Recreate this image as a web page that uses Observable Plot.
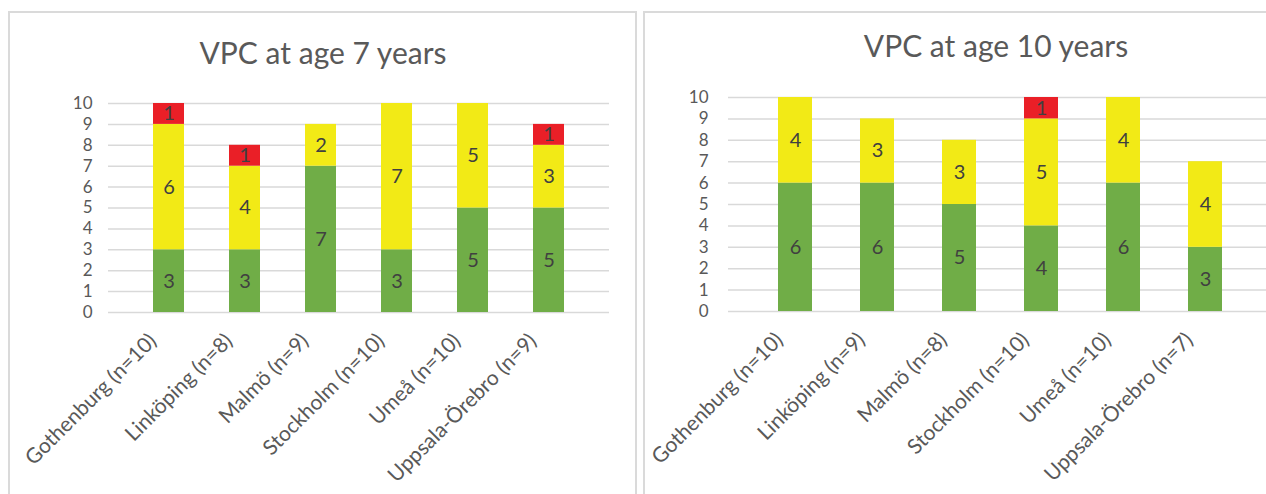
<!DOCTYPE html>
<html>
<head>
<meta charset="utf-8">
<script src="https://cdn.jsdelivr.net/npm/d3@7"></script>
<script src="https://cdn.jsdelivr.net/npm/@observablehq/plot@0.6"></script>
<style>
  html, body { margin: 0; padding: 0; background: #fff; }
  body { width: 1266px; height: 494px; overflow: hidden; position: relative; font-family: Lato, "Open Sans", sans-serif; }
  .panel { position: absolute; border: 2px solid #dadada; box-sizing: border-box; }
  .title { position: absolute; font-family: Lato, sans-serif; font-size: 30px; color: #595959; white-space: nowrap; transform: translateX(-50%); }
  .chart { position: absolute; top: 0; width: 700px; }
  .chart svg { overflow: visible; max-width: none !important; }
</style>
</head>
<body>
<div class="panel" style="left:8px; top:11px; width:629px; height:500px;"></div>
<div class="panel" style="left:643px; top:11px; width:640px; height:500px;"></div>
<div class="title" style="left:323px; top:34px;">VPC at age 7 years</div>
<div class="title" style="left:996px; top:27px;">VPC at age 10 years</div>
<div id="c7" class="chart" style="left:0px;"></div>
<div id="c10" class="chart" style="left:640px;"></div>
<script>
// Age 7
const regions7 = ["Gothenburg (n=10)", "Linköping (n=8)", "Malmö (n=9)", "Stockholm (n=10)", "Umeå (n=10)", "Uppsala-Örebro (n=9)"];
const green7  = [3, 3, 7, 3, 5, 5];
const yellow7 = [6, 4, 2, 7, 5, 3];
const red7    = [1, 1, 0, 0, 0, 1];

// Age 10
const regions10 = ["Gothenburg (n=10)", "Linköping (n=9)", "Malmö (n=8)", "Stockholm (n=10)", "Umeå (n=10)", "Uppsala-Örebro (n=7)"];
const green10  = [6, 6, 5, 4, 6, 3];
const yellow10 = [4, 3, 3, 5, 4, 4];
const red10    = [0, 0, 0, 1, 0, 0];

const yTicks = [0, 1, 2, 3, 4, 5, 6, 7, 8, 9, 10];
const levels = ["level-green", "level-yellow", "level-red"];
const colors = ["#70AD47", "#F2EA16", "#EA1F27"];

function toRows(regions, g, y, r) {
  const rows = [];
  const series = [g, y, r];
  levels.forEach((lv, i) => {
    regions.forEach((reg, j) => {
      const v = series[i][j];
      if (v > 0) rows.push({region: reg, level: lv, value: v});
    });
  });
  return rows;
}

function makeChart(regions, rows, opts) {
  return Plot.plot({
    width: opts.width,
    height: 494,
    marginLeft: opts.marginLeft,
    marginRight: opts.marginRight,
    marginTop: opts.marginTop,
    marginBottom: opts.marginBottom,
    style: {fontFamily: "Lato, sans-serif", fontSize: "20px", color: "#595959", background: "transparent"},
    x: {domain: regions, padding: 0.59, label: null},
    y: {domain: [0, 10], label: null},
    color: {type: "ordinal", domain: levels, range: colors},
    marks: [
      Plot.gridY({ticks: yTicks, stroke: "#d9d9d9", strokeOpacity: 1, strokeWidth: 1.5}),
      Plot.barY(rows, {x: "region", y: "value", fill: "level", z: "level", order: levels}),
      Plot.text(rows, Plot.stackY({x: "region", y: "value", z: "level", order: levels, text: "value", fill: "#404040", fontSize: 20})),
      Plot.axisY({ticks: yTicks, tickSize: 0, tickPadding: opts.yPad, fontSize: 17, tickFormat: d => String(d)}),
      Plot.axisX({tickSize: 0, tickRotate: -45, tickPadding: 6, fontSize: 21, dx: -16, dy: 19})
    ]
  });
}

document.getElementById("c7").appendChild(
  makeChart(regions7, toRows(regions7, green7, yellow7, red7),
    {width: 636, marginLeft: 108, marginRight: 27, marginTop: 103, marginBottom: 182, yPad: 16})
);
document.getElementById("c10").appendChild(
  makeChart(regions10, toRows(regions10, green10, yellow10, red10),
    {width: 640, marginLeft: 88, marginRight: 9, marginTop: 97, marginBottom: 183, yPad: 20})
);
</script>
</body>
</html>
